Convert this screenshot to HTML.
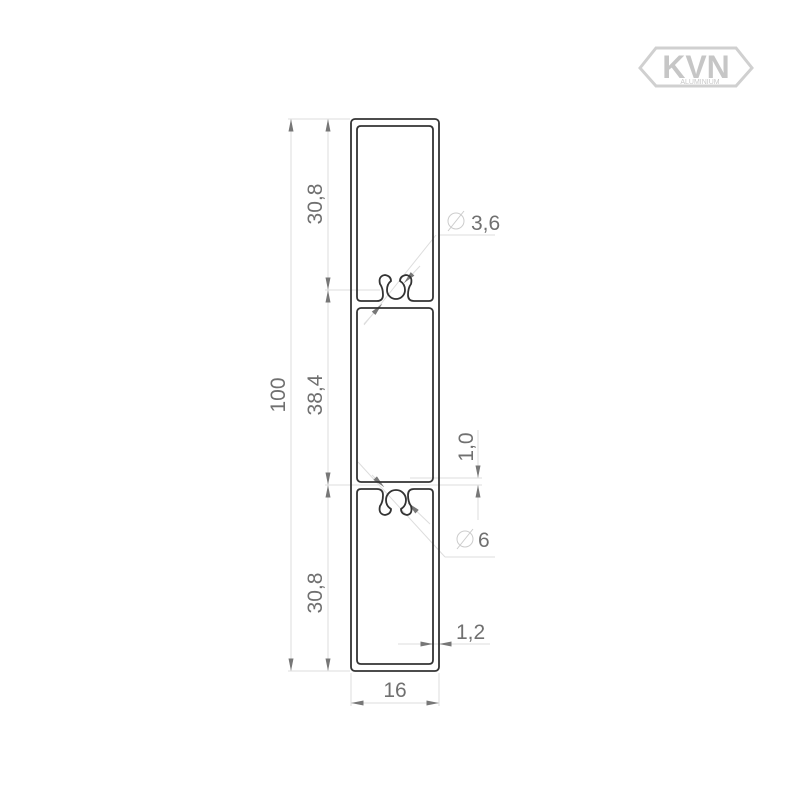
<!DOCTYPE html>
<html><head><meta charset="utf-8"><style>
html,body{margin:0;padding:0;background:#fff;}
svg{display:block;}
text{font-family:"Liberation Sans","DejaVu Sans",sans-serif;fill:#707070;}
</style></head><body>
<svg width="790" height="790" viewBox="0 0 790 790" xmlns="http://www.w3.org/2000/svg">
<defs>
<marker id="a" viewBox="0 0 10 4" refX="10" refY="2" markerWidth="16" markerHeight="5" orient="auto-start-reverse" markerUnits="userSpaceOnUse"><path d="M0,0L10,2L0,4z" fill="#777"/></marker>
</defs>
<!-- logo -->
<g opacity="0.55">
<polygon points="640,68 656,48 736,48 752,68 736,86 656,86" fill="none" stroke="#aaa" stroke-width="3"/>
<text x="696" y="78" text-anchor="middle" font-size="32" font-weight="bold" style="fill:#999">KVN</text>
<text x="700" y="84" text-anchor="middle" font-size="7" style="fill:#999">ALUMINIUM</text>
</g>
<g stroke="#ddd" stroke-width="1" fill="none">
<line x1="288" y1="119" x2="350" y2="119"/>
<line x1="288" y1="671" x2="350" y2="671"/>
<line x1="325" y1="290" x2="380" y2="290"/>
<line x1="325" y1="485" x2="380" y2="485"/>
<line x1="351" y1="673" x2="351" y2="706"/>
<line x1="439" y1="673" x2="439" y2="706"/>
<line x1="410" y1="485" x2="482" y2="485"/>
<line x1="410" y1="478" x2="482" y2="478"/>
<line x1="440" y1="235" x2="495" y2="235"/>
<line x1="436" y1="235" x2="364" y2="325"/>
<line x1="358" y1="462" x2="445" y2="557"/>
<line x1="445" y1="557" x2="495" y2="557"/>
<line x1="398" y1="644" x2="490" y2="644"/>
</g>
<g stroke="#ddd" stroke-width="1" fill="none">
<line x1="291" y1="119" x2="291" y2="671" marker-start="url(#a)" marker-end="url(#a)"/>
<line x1="328" y1="119" x2="328" y2="290" marker-start="url(#a)" marker-end="url(#a)"/>
<line x1="328" y1="290" x2="328" y2="485" marker-start="url(#a)" marker-end="url(#a)"/>
<line x1="328" y1="485" x2="328" y2="671" marker-start="url(#a)" marker-end="url(#a)"/>
<line x1="351" y1="703" x2="439" y2="703" marker-start="url(#a)" marker-end="url(#a)"/>
<line x1="478" y1="430" x2="478" y2="478" marker-end="url(#a)"/>
<line x1="478" y1="520" x2="478" y2="485" marker-end="url(#a)"/>
<line x1="410" y1="644" x2="433" y2="644" marker-end="url(#a)"/>
<line x1="462" y1="644" x2="439" y2="644" marker-end="url(#a)"/>
<line x1="420" y1="266" x2="404" y2="283" marker-end="url(#a)"/>
<line x1="364" y1="324" x2="382" y2="304" marker-end="url(#a)"/>
<line x1="372" y1="475" x2="384" y2="487" marker-end="url(#a)"/>
<line x1="430" y1="524" x2="408" y2="503" marker-end="url(#a)"/>
</g>
<g fill="none" stroke="#333" stroke-width="1.8">
<rect x="351" y="119" width="88" height="552" rx="4"/>
<path d="M361,126 H429 Q433,126 433,130 V297 Q433,301 429,301 H414 Q408,301 408,295 Q408,288 411,284 Q413,276 406,275 Q400,276 400,281 Q405,284 405,290 A9,9 0 0 1 387,290 Q387,284 391,281 Q391,276 385,275 Q378,276 380,284 Q383,288 383,295 Q383,301 377,301 H361 Q357,301 357,297 V130 Q357,126 361,126 Z"/>
<rect x="357" y="308" width="76" height="174" rx="4"/>
<path d="M361,489 H377 Q383,489 383,495 Q383,502 380,506 Q378,514 385,515 Q391,514 391,509 Q386,506 386,500 A10,10 0 0 1 406,500 Q406,506 401,509 Q401,514 407,515 Q413,514 411,506 Q408,502 408,495 Q408,489 414,489 H429 Q433,489 433,493 V660 Q433,664 429,664 H361 Q357,664 357,660 V493 Q357,489 361,489 Z"/>
</g>
<g font-size="21">
<text transform="translate(285,395) rotate(-90)" text-anchor="middle">100</text>
<text transform="translate(322,204) rotate(-90)" text-anchor="middle">30,8</text>
<text transform="translate(322,395) rotate(-90)" text-anchor="middle">38,4</text>
<text transform="translate(322,593) rotate(-90)" text-anchor="middle">30,8</text>
<text transform="translate(473,447) rotate(-90)" text-anchor="middle">1,0</text>
<text x="395" y="697" text-anchor="middle">16</text>
<text x="456" y="639">1,2</text>
<text x="471" y="230">3,6</text>
<text x="478" y="547">6</text>
</g>
<g fill="none" stroke="#ccc" stroke-width="1">
<circle cx="456" cy="221" r="8"/><line x1="448" y1="231" x2="464" y2="211"/>
<circle cx="465" cy="539" r="8"/><line x1="457" y1="549" x2="473" y2="529"/>
</g>
</svg>
</body></html>
